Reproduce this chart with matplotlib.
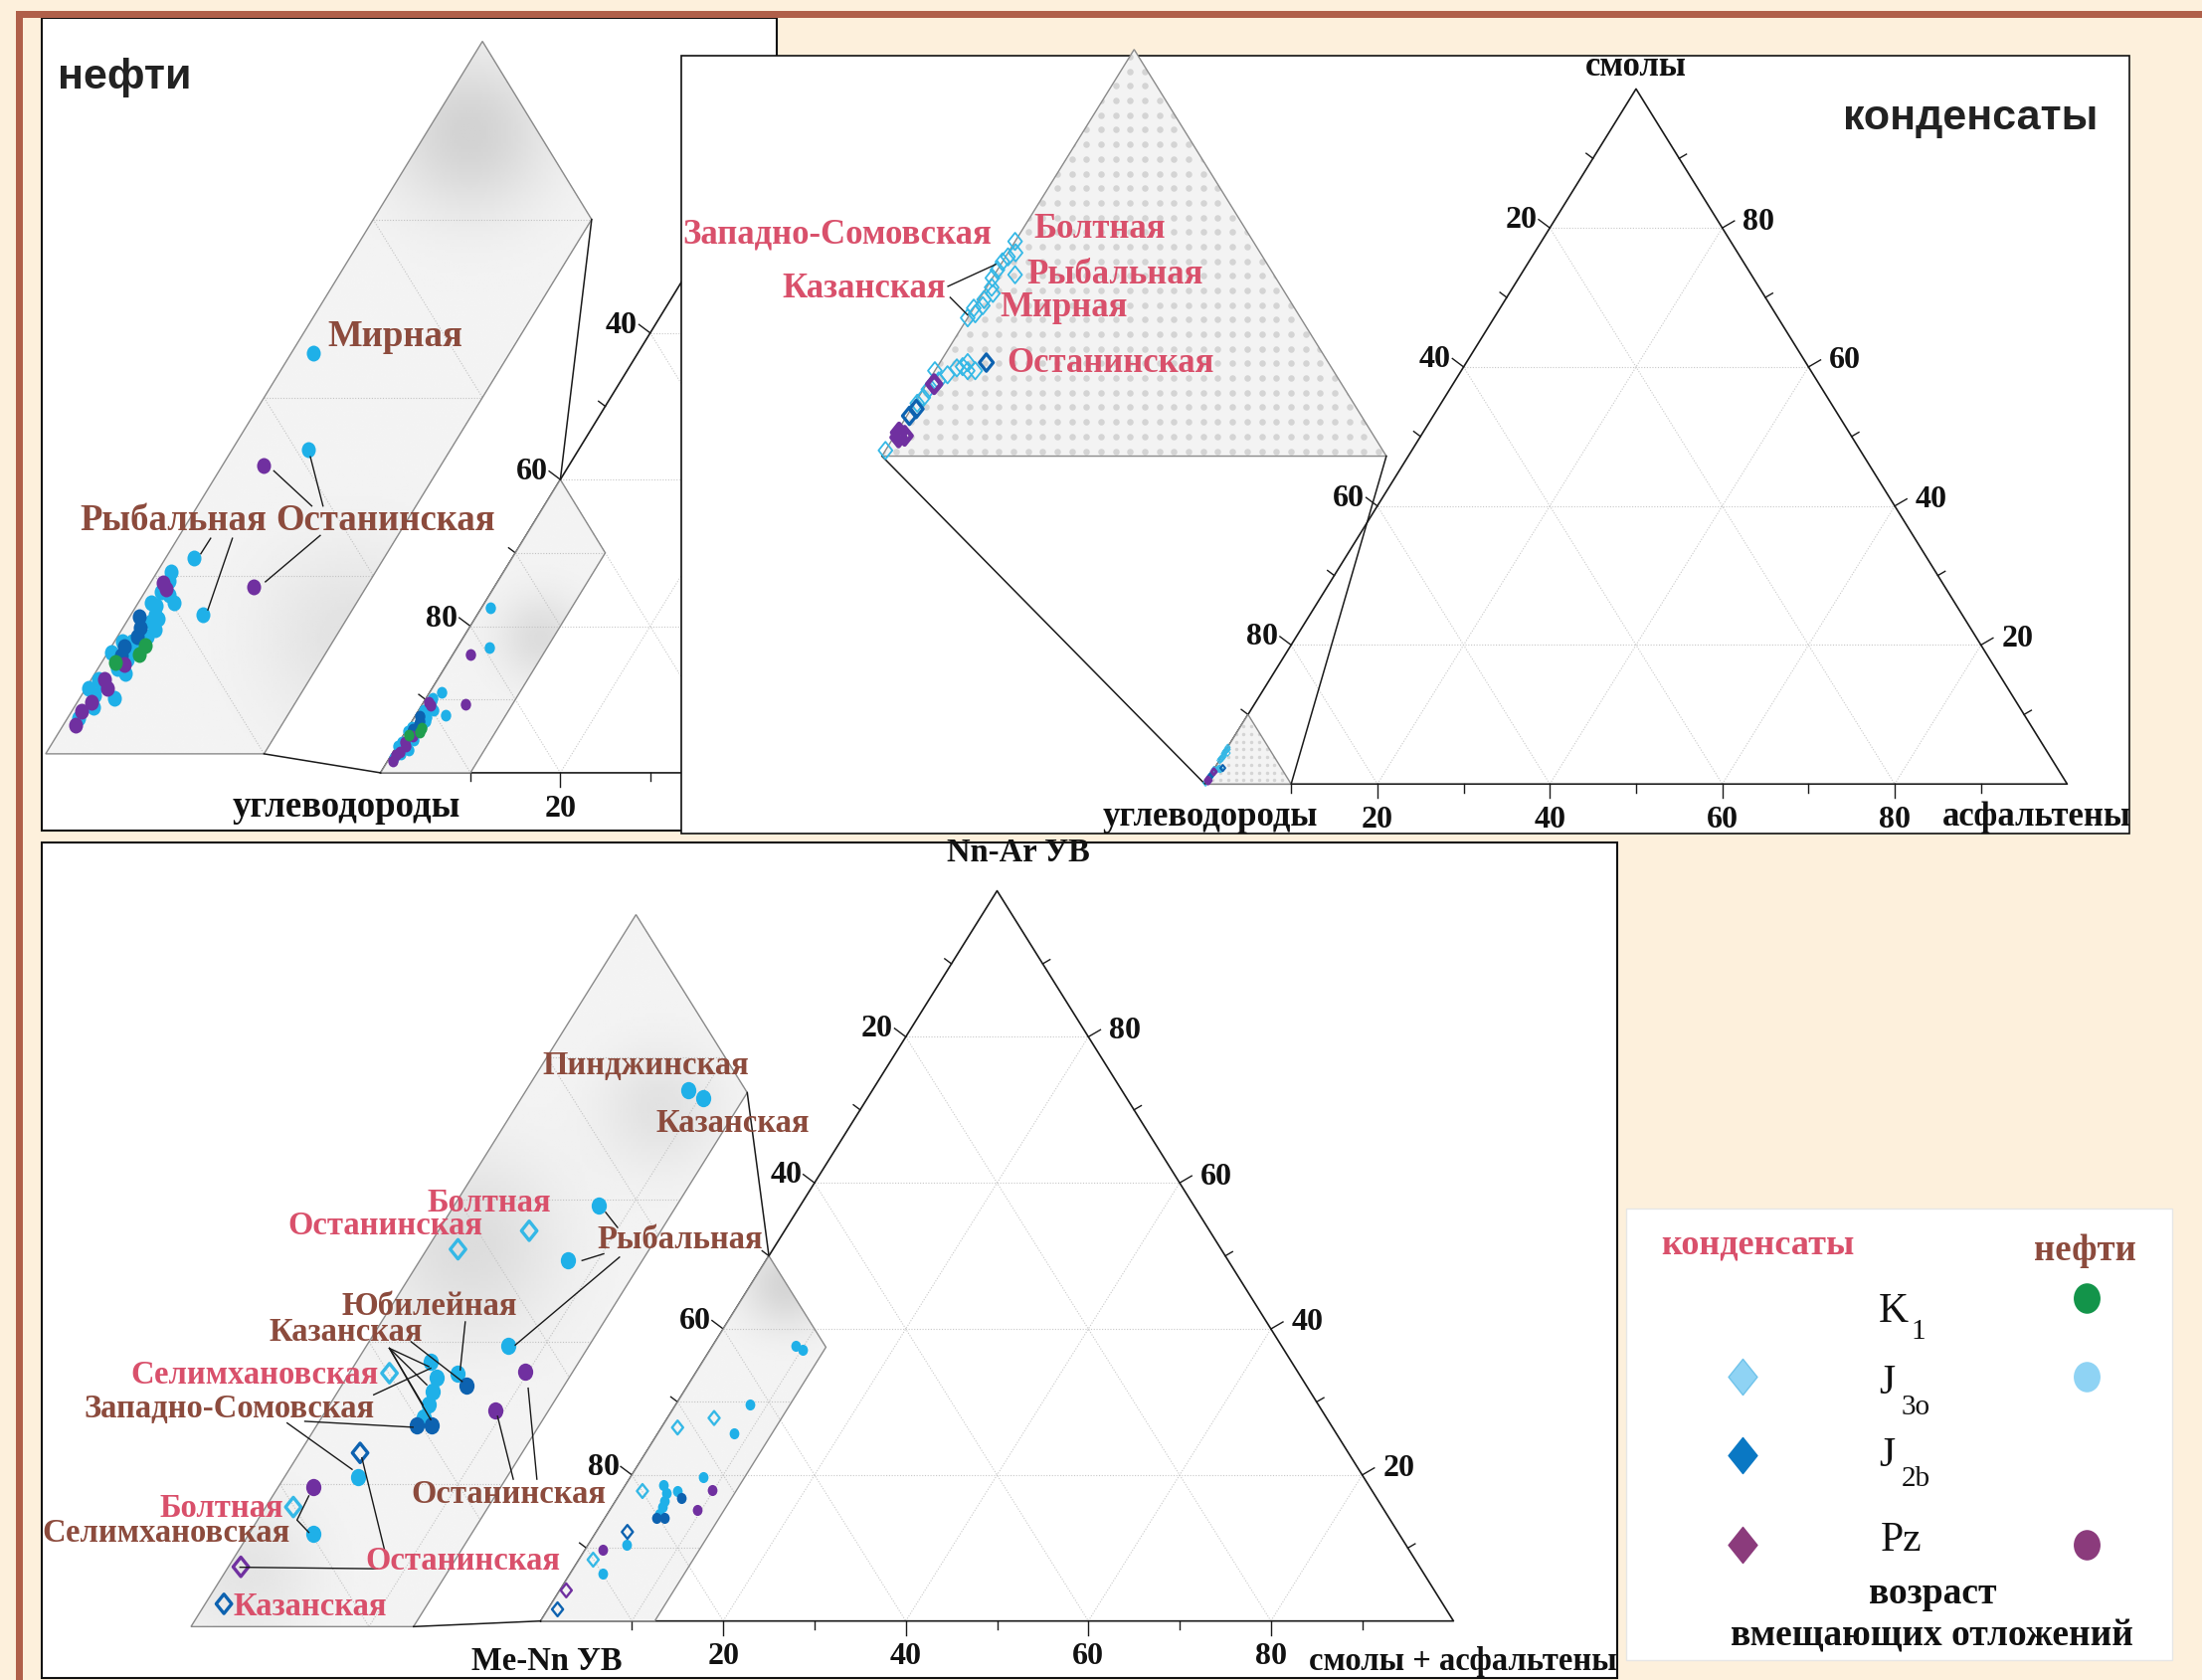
import numpy as np
import matplotlib.pyplot as plt
from matplotlib.patches import Polygon, Rectangle
from matplotlib.path import Path
from matplotlib.transforms import Affine2D

SERIF = ['Liberation Serif', 'DejaVu Serif']
SANS = ['Liberation Sans', 'DejaVu Sans']

BEIGE = '#fdf0dc'
FRAME = '#b0604a'
OIL_TXT = '#8c4b3d'
COND_TXT = '#d9506b'
C_K1 = '#1f9e4e'
C_J3 = '#1fb0e8'
C_J2 = '#0d62b0'
C_PZ = '#7030a0'

# ---- нефти: смолы (top) и асфальтены (right), %; углеводороды = остаток
oil_j3_sm = [22.5, 17.1, 11.0, 7.8, 10.2, 8.5, 9.1, 8.3, 7.8, 7.4, 7.6, 6.6, 6.3, 5.3,
             4.8, 3.9, 3.1, 3.3, 2.0, 3.7, 4.2, 5.7, 6.3, 8.5, 9.7, 4.5, 2.6, 5.9, 7.0, 8.9]
oil_j3_as = [1.0, 3.5, 1.3, 3.3, 0.65, 1.65, 0.75, 0.9, 1.1, 1.15, 1.35, 1.35, 0.8, 1.1,
             0.9, 0.6, 1.6, 0.6, 0.5, 0.1, 0.3, 0.15, 0.35, 0.6, 0.8, 1.4, 0.9, 1.0, 1.5, 1.2]
oil_j2_sm = [7.7, 7.1, 6.6, 6.0, 5.5]
oil_j2_as = [0.45, 0.8, 0.9, 0.6, 0.7]
oil_pz_sm = [16.2, 9.4, 9.25, 5.0, 4.2, 3.7, 2.9, 2.4, 1.6, 9.6]
oil_pz_as = [1.9, 4.8, 0.9, 1.1, 0.6, 1.0, 0.65, 0.45, 0.55, 0.6]
oil_k1_sm = [6.1, 5.6, 5.15]
oil_k1_as = [1.5, 1.5, 0.6]

# ---- конденсаты: смолы и асфальтены, %
cnd_j3_sm = [0.14, 1.3, 1.44, 1.64, 1.85, 2.1, 2.0, 2.17, 2.2, 2.1, 2.1, 2.3, 3.4, 3.5, 3.64,
             3.7, 3.85, 4.0, 4.15, 4.38, 4.46, 4.58, 4.78, 4.9, 5.0, 5.28]
cnd_j3_as = [0.0, 0.05, 0.1, 0.1, 0.2, 0.0, 0.3, 0.4, 0.5, 0.65, 0.8, 0.55, 0.0, 0.1, 0.0,
             0.15, 0.1, 0.2, 0.1, 0.0, 0.41, 0.0, 0.0, 0.05, 0.15, 0.0]
cnd_j2_sm = [0.99, 1.16, 2.3]
cnd_j2_as = [0.05, 0.1, 0.92]
cnd_pz_sm = [0.46, 0.5, 0.58, 1.77]
cnd_pz_as = [0.1, 0.2, 0.05, 0.15]

# ---- групповой состав УВ: Nn-Ar УВ (top) и смолы + асфальтены (right), %
low_oil_j3_na = [37.7, 37.1, 29.6, 25.7, 19.7, 18.6, 17.5, 16.5, 15.6, 14.7, 17.8, 10.5, 6.5]
low_oil_j3_sa = [9.1, 10.2, 8.1, 8.35, 8.0, 4.15, 5.05, 5.3, 5.55, 5.7, 6.1, 4.15, 3.6]
low_oil_j2_na = [14.1, 14.1, 16.9]
low_oil_j2_sa = [5.65, 6.45, 7.0]
low_oil_pz_na = [17.9, 15.2, 9.8]
low_oil_pz_sa = [9.8, 9.5, 1.95]
low_cnd_j3_na = [27.8, 26.5, 17.8, 8.4]
low_cnd_j3_sa = [5.1, 1.75, 2.25, 1.55]
low_cnd_j2_na = [12.2, 1.6]
low_cnd_j2_sa = [3.4, 1.05]
low_cnd_pz_na = [4.2]
low_cnd_pz_sa = [0.7]

W, H = 1568, 1197
fig = plt.figure(figsize=(22.14, 16.90), dpi=100, facecolor=BEIGE)
ax = fig.add_axes([0, 0, 1, 1])
ax.set_facecolor(BEIGE)
ax.axis('off')

DIAMOND = Path([(0, 1), (0.8, 0), (0, -1), (-0.8, 0), (0, 1)],
               [Path.MOVETO, Path.LINETO, Path.LINETO, Path.LINETO, Path.CLOSEPOLY])
OVAL = Path.unit_circle().transformed(Affine2D().scale(0.88, 1.0))


def tpos(fr, top, right):
    top = np.asarray(top, float)
    right = np.asarray(right, float)
    ox, oy, bx, tx, ty = fr
    return ox + right * bx + top * tx, oy + top * ty


def zoomed(fr, origin, k):
    return (origin[0], origin[1], fr[2] * k, fr[3] * k, fr[4] * k)


def inside(pt, box):
    return box is not None and box[0] <= pt[0] <= box[2] and box[1] <= pt[1] <= box[3]


def triangle(fr, z, clip=None, size=23, hidden=None):
    arts = []
    A, T, R = tpos(fr, 0, 0), tpos(fr, 100, 0), tpos(fr, 0, 100)
    for v in (20, 40, 60, 80):
        for p, q in [((v, 0), (v, 100 - v)), ((0, v), (100 - v, v)), ((100 - v, 0), (0, 100 - v))]:
            xs, ys = tpos(fr, [p[0], q[0]], [p[1], q[1]])
            arts += ax.plot(xs, ys, color='#c8c8c8', lw=0.8, ls=(0, (1, 1.5)), zorder=z)
    arts += ax.plot([A[0], T[0], R[0], A[0]], [A[1], T[1], R[1], A[1]],
                    color='#1a1a1a', lw=1.2, zorder=z + 0.5)
    dirs = {'l': (-0.8, -0.6), 'r': (0.86, -0.5), 'b': (0.0, 1.0)}
    for v in range(10, 100, 10):
        major = v % 20 == 0
        ln = 10 if major else 6
        for side, p in [('l', tpos(fr, 100 - v, 0)), ('r', tpos(fr, v, 100 - v)), ('b', tpos(fr, 0, v))]:
            d = dirs[side]
            e = (p[0] + d[0] * ln, p[1] + d[1] * ln)
            arts += ax.plot([p[0], e[0]], [p[1], e[1]], color='#1a1a1a', lw=1.0, zorder=z + 0.5)
            if not major or inside(p, hidden):
                continue
            kw = dict(fontsize=size, fontweight='bold', family=SERIF, color='#111', zorder=z + 1)
            if side == 'l':
                arts.append(ax.text(e[0] - 1, e[1], str(v), ha='right', va='center', **kw))
            elif side == 'r':
                arts.append(ax.text(e[0] + 6, e[1], str(v), ha='left', va='center', **kw))
            else:
                arts.append(ax.text(p[0], p[1] + 25, str(v), ha='center', va='center', **kw))
    if clip is not None:
        for a in arts:
            a.set_clip_path(clip)


def region(fr, verts, z, style, blobs=(), grid=True, dot_step=10.0):
    pts = np.array([tpos(fr, t, r) for t, r in verts])
    outline = Polygon(pts, closed=True, fc='none', ec='#8a8a8a', lw=1.0, zorder=z + 0.6)
    ax.add_patch(outline)
    x0, y0 = pts.min(axis=0)
    x1, y1 = pts.max(axis=0)
    if style == 'shade':
        gx = np.linspace(x0, x1, 220)
        gy = np.linspace(y0, y1, 220)
        X, Y = np.meshgrid(gx, gy)
        V = np.full_like(X, 0.955)
        for bx, by, sg, dp in blobs:
            V -= dp * np.exp(-((X - bx) ** 2 + (Y - by) ** 2) / (2 * sg ** 2))
        im = ax.imshow(V, extent=(x0, x1, y1, y0), origin='upper', cmap='gray', vmin=0, vmax=1,
                       interpolation='bilinear', aspect='auto', zorder=z)
        im.set_clip_path(outline)
    else:
        base = Polygon(pts, closed=True, fc='#f3f3f3', ec='none', zorder=z)
        ax.add_patch(base)
        gx, gy = np.meshgrid(np.arange(x0, x1 + dot_step, dot_step),
                             np.arange(y0 + dot_step / 2, y1, dot_step))
        dots = ax.scatter(gx.ravel(), gy.ravel(), s=(dot_step * 0.45) ** 2, color='#d4d4d4',
                          lw=0, zorder=z + 0.1)
        dots.set_clip_path(outline)
    if grid:
        for v in range(10, 100, 10):
            for p, q in [((v, 0), (v, 100 - v)), ((0, v), (100 - v, v)), ((100 - v, 0), (0, 100 - v))]:
                xs, ys = tpos(fr, [p[0], q[0]], [p[1], q[1]])
                ln, = ax.plot(xs, ys, color='#c2c2c2', lw=0.8, ls=(0, (1, 1.5)), zorder=z + 0.2)
                ln.set_clip_path(outline)
    return pts


def connect(a, b, z):
    ax.plot([a[0], b[0]], [a[1], b[1]], color='#1a1a1a', lw=1.1, zorder=z)


def points(fr, top, right, color, marker, ms, z, filled=True, lw=1.2, clip=None):
    x, y = tpos(fr, top, right)
    if filled:
        sc = ax.scatter(x, y, s=ms ** 2, marker=marker, color=color, lw=0, zorder=z)
    else:
        sc = ax.scatter(x, y, s=ms ** 2, marker=marker, facecolors='none', edgecolors=color,
                        linewidths=lw, zorder=z)
    if clip is not None:
        sc.set_clip_path(clip)


def label(x, y, s, color, size, z):
    ax.text(x, y, s, color=color, fontsize=size, fontweight='bold', family=SERIF,
            ha='center', va='center', zorder=z)


def leaders(segs, z):
    for seg in segs:
        xs, ys = zip(*seg)
        ax.plot(xs, ys, color='#1a1a1a', lw=1.0, zorder=z)


# ---------------- panels
p1 = Rectangle((29.6, 13.7), 523.4, 578.3, fc='white', ec='#111', lw=1.5, zorder=1)
p2_box = (485, 40.2, 1516.5, 594)
p2 = Rectangle((485, 40.2), 1031.5, 553.8, fc='white', ec='#111', lw=1.2, zorder=10)
p3 = Rectangle((29.6, 600.6), 1122.1, 595, fc='white', ec='#111', lw=1.5, zorder=1)
for p in (p1, p2, p3):
    ax.add_patch(p)

# ---------------- нефти
oil_main = (271, 551, 6.4, 3.2, -5.22)
oil_zoom = zoomed(oil_main, (32.5, 537.5), 2.43)
triangle(oil_main, 2, clip=p1, size=23, hidden=p2_box)
oil_reg = [(0, 0), (40, 0), (30, 10), (0, 10)]
region(oil_main, oil_reg, 3, 'shade', blobs=[(385, 455, 22, 0.09)])
region(oil_zoom, oil_reg, 3, 'shade', blobs=[(335, 95, 40, 0.13), (250, 455, 45, 0.07)])
connect(tpos(oil_zoom, 0, 10), tpos(oil_main, 0, 0), 4)
connect(tpos(oil_zoom, 30, 10), tpos(oil_main, 40, 0), 4)
for fr, ms in [(oil_main, 8.5), (oil_zoom, 11.5)]:
    points(fr, oil_j3_sm, oil_j3_as, C_J3, OVAL, ms, 5, clip=p1)
    points(fr, oil_j2_sm, oil_j2_as, C_J2, OVAL, ms, 5.1, clip=p1)
    points(fr, oil_pz_sm, oil_pz_as, C_PZ, OVAL, ms, 5.2, clip=p1)
    points(fr, oil_k1_sm, oil_k1_as, C_K1, OVAL, ms, 5.3, clip=p1)
ax.text(41, 55, 'нефти', fontsize=31, fontweight='bold', family=SANS, color='#222',
        ha='left', va='center', zorder=6)
ax.text(246.5, 575, 'углеводороды', fontsize=26.5, fontweight='bold', family=SERIF,
        color='#111', ha='center', va='center', zorder=6)
for s, x, y in [('Мирная', 281.5, 240), ('Рыбальная', 123.5, 371), ('Останинская', 274.5, 371)]:
    label(x, y, s, OIL_TXT, 26.5, 6)
leaders([[(195, 336), (222, 361)], [(221, 326), (230, 361)], [(228, 382), (189, 415)],
         [(150, 384), (143, 395)], [(165.5, 384), (148, 435)]], 5.5)

# ---------------- конденсаты
cnd_main = (858, 559, 6.14, 3.07, -4.95)
cnd_zoom = zoomed(cnd_main, (628, 325.5), 5.85)
triangle(cnd_main, 11, size=23)
cnd_reg = [(0, 0), (10, 0), (0, 10)]
region(cnd_main, cnd_reg, 12, 'dots', grid=False, dot_step=5.5)
region(cnd_zoom, cnd_reg, 12, 'dots', grid=False, dot_step=10.4)
connect(tpos(cnd_zoom, 0, 0), tpos(cnd_main, 0, 0), 13)
connect(tpos(cnd_zoom, 0, 10), tpos(cnd_main, 0, 10), 13)
for fr, ms, lw in [(cnd_main, 4.5, 0.8), (cnd_zoom, 12.5, 1.3)]:
    points(fr, cnd_j3_sm, cnd_j3_as, '#35b8e6', DIAMOND, ms, 14, filled=False, lw=lw)
    points(fr, cnd_j2_sm, cnd_j2_as, C_J2, DIAMOND, ms, 14.1, filled=False, lw=lw * 1.8)
    points(fr, cnd_pz_sm, cnd_pz_as, C_PZ, DIAMOND, ms, 14.2, filled=False, lw=lw * 2.6)
ax.text(1403, 84, 'конденсаты', fontsize=31, fontweight='bold', family=SANS, color='#222',
        ha='center', va='center', zorder=15)
for s, x, y in [('смолы', 1165, 48), ('углеводороды', 862, 582), ('асфальтены', 1450, 582)]:
    ax.text(x, y, s, fontsize=25, fontweight='bold', family=SERIF, color='#111',
            ha='center', va='center', zorder=15)
for s, x, y in [('Западно-Сомовская', 596, 167), ('Болтная', 783, 163), ('Рыбальная', 794, 196),
                ('Казанская', 615.5, 206), ('Мирная', 757.5, 219), ('Останинская', 790.5, 259)]:
    label(x, y, s, COND_TXT, 25, 15)
leaders([[(675, 204.6), (709, 189)], [(676.6, 212.5), (689, 225)]], 14.5)

# ---------------- групповой состав
low_main = (385, 1155, 6.5, 3.25, -5.2)
low_zoom = zoomed(low_main, (136, 1159), 1.95)
triangle(low_main, 2, size=23)
low_reg = [(0, 0), (50, 0), (37.5, 12.5), (0, 12.5)]
region(low_main, low_reg, 3, 'shade', blobs=[(560, 915, 22, 0.12)])
region(low_zoom, low_reg, 3, 'shade',
       blobs=[(335, 888, 45, 0.09), (470, 790, 30, 0.07), (175, 1120, 35, 0.06)])
connect(tpos(low_zoom, 0, 12.5), tpos(low_main, 0, 0), 4)
connect(tpos(low_zoom, 37.5, 12.5), tpos(low_main, 50, 0), 4)
for fr, ms_c, ms_d, lw in [(low_main, 8, 10, 1.7), (low_zoom, 12.5, 14, 2.4)]:
    points(fr, low_oil_j3_na, low_oil_j3_sa, C_J3, OVAL, ms_c, 5)
    points(fr, low_oil_j2_na, low_oil_j2_sa, C_J2, OVAL, ms_c, 5.1)
    points(fr, low_oil_pz_na, low_oil_pz_sa, C_PZ, OVAL, ms_c, 5.2)
    points(fr, low_cnd_j3_na, low_cnd_j3_sa, '#35b8e6', DIAMOND, ms_d, 5.3, filled=False, lw=lw)
    points(fr, low_cnd_j2_na, low_cnd_j2_sa, C_J2, DIAMOND, ms_d, 5.3, filled=False, lw=lw)
    points(fr, low_cnd_pz_na, low_cnd_pz_sa, C_PZ, DIAMOND, ms_d, 5.3, filled=False, lw=lw)
for s, x, y in [('Nn-Ar УВ', 725, 607), ('Me-Nn УВ', 389, 1183), ('смолы + асфальтены', 1042, 1183)]:
    ax.text(x, y, s, fontsize=23.5, fontweight='bold', family=SERIF, color='#111',
            ha='center', va='center', zorder=6)
for s, x, y, c in [('Пинджинская', 460, 759, OIL_TXT), ('Казанская', 522, 800, OIL_TXT),
                   ('Болтная', 348, 857, COND_TXT), ('Останинская', 274.5, 873, COND_TXT),
                   ('Рыбальная', 484, 883, OIL_TXT), ('Юбилейная', 305.5, 930, OIL_TXT),
                   ('Казанская', 246.5, 949, OIL_TXT), ('Селимхановская', 181.5, 979, COND_TXT),
                   ('Западно-Сомовская', 163.5, 1003, OIL_TXT), ('Останинская', 362, 1064, OIL_TXT),
                   ('Болтная', 157.5, 1074, COND_TXT), ('Селимхановская', 118, 1092, OIL_TXT),
                   ('Останинская', 329.5, 1112, COND_TXT), ('Казанская', 221, 1144, COND_TXT)]:
    label(x, y, s, c, 23.5, 6)
leaders([[(431.3, 864), (439.7, 874.7)], [(414.5, 898.3), (429.9, 893.5)],
         [(441.1, 895.9), (366.9, 958.5)], [(331.3, 942), (327.7, 976.2)],
         [(277.3, 960.8), (305.3, 973.8)], [(277.3, 960.8), (303.9, 986.8)],
         [(277.3, 960.8), (301.1, 1001)], [(277.3, 960.8), (306.7, 1011.6)],
         [(292.7, 956.1), (329.1, 984.4)], [(266.1, 993.9), (306.7, 975)],
         [(217.1, 1012.8), (294.1, 1017)], [(204.5, 1014), (250.7, 1047)],
         [(365.5, 1054), (354.3, 1009.2)], [(382.3, 1054), (376.1, 989.2)],
         [(219.9, 1065.9), (211.5, 1083.1), (219.9, 1091.9)],
         [(274.5, 1107.2), (257.7, 1038.8)], [(268.9, 1117.8), (170.9, 1116.7)]], 5.5)

# ---------------- легенда
ax.add_patch(Rectangle((1158, 861), 389, 322, fc='white', ec='#e6e6e6', lw=1.0, zorder=1))
leg_cnd = [None, '#8fd3f4', '#0a78c4', '#8b3b7c']
leg_oil = ['#13944a', '#8fd3f4', None, '#8b3b7c']
leg_mark_y = [925, 981, 1037, 1101]
for c, y in zip(leg_cnd, leg_mark_y):
    if c:
        ax.scatter([1241], [y], s=26 ** 2, marker=DIAMOND, color=c,
                   edgecolors='#6fc3ea' if c == '#8fd3f4' else c, lw=1, zorder=2)
for c, y in zip(leg_oil, leg_mark_y):
    if c:
        ax.scatter([1485.5], [y], s=22 ** 2, marker=OVAL, color=c, lw=0, zorder=2)
tk = dict(family=SERIF, color='#111', zorder=3)
ax.text(1338, 941, 'K', fontsize=30, ha='left', va='baseline', **tk)
ax.text(1361, 953, '1', fontsize=21, ha='left', va='baseline', **tk)
ax.text(1338, 992, 'J', fontsize=30, ha='left', va='baseline', **tk)
ax.text(1354, 1007, '3o', fontsize=21, ha='left', va='baseline', **tk)
ax.text(1338, 1044, 'J', fontsize=30, ha='left', va='baseline', **tk)
ax.text(1354, 1058, '2b', fontsize=21, ha='left', va='baseline', **tk)
ax.text(1339, 1104, 'Pz', fontsize=30, ha='left', va='baseline', **tk)
ax.text(1252, 887, 'конденсаты', fontsize=26, fontweight='bold', family=SERIF, color=COND_TXT,
        ha='center', va='center', zorder=3)
ax.text(1484.5, 891, 'нефти', fontsize=26.5, fontweight='bold', family=SERIF, color=OIL_TXT,
        ha='center', va='center', zorder=3)
ax.text(1376, 1135, 'возраст', fontsize=27, fontweight='bold', family=SERIF, color='#111',
        ha='center', va='center', zorder=3)
ax.text(1376, 1165, 'вмещающих отложений', fontsize=27, fontweight='bold', family=SERIF,
        color='#111', ha='center', va='center', zorder=3)

# ---------------- рамка
ax.add_patch(Rectangle((11.1, 8.7), W, 5.0, fc=FRAME, ec='none', zorder=30))
ax.add_patch(Rectangle((11.1, 8.7), 5.0, H, fc=FRAME, ec='none', zorder=30))

ax.set_xlim(0, W)
ax.set_ylim(H, 0)
fig.savefig('out.png', dpi=100, facecolor=BEIGE)
